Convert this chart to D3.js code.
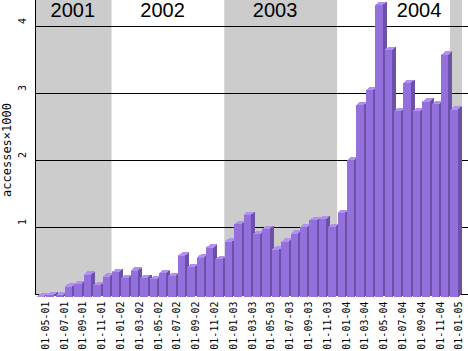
<!DOCTYPE html>
<html>
<head>
<meta charset="utf-8">
<script src="https://cdn.jsdelivr.net/npm/d3@7/dist/d3.min.js"></script>
<style>
  html, body { margin: 0; padding: 0; background: #ffffff; }
  svg { display: block; }
</style>
</head>
<body>
<script>
// ---- data ----
const months = [
  "2001-05","2001-06","2001-07","2001-08","2001-09","2001-10","2001-11","2001-12",
  "2002-01","2002-02","2002-03","2002-04","2002-05","2002-06","2002-07","2002-08","2002-09","2002-10","2002-11","2002-12",
  "2003-01","2003-02","2003-03","2003-04","2003-05","2003-06","2003-07","2003-08","2003-09","2003-10","2003-11","2003-12",
  "2004-01","2004-02","2004-03","2004-04","2004-05","2004-06","2004-07","2004-08","2004-09","2004-10","2004-11","2004-12",
  "2005-01"
];
// accesses (in thousands)
const accesses = [
  0.01, 0.03, 0.03, 0.16, 0.20, 0.34, 0.18, 0.31,
  0.38, 0.29, 0.40, 0.29, 0.27, 0.36, 0.32, 0.62, 0.45, 0.59, 0.74, 0.57,
  0.83, 1.09, 1.23, 0.94, 1.02, 0.71, 0.83, 0.95, 1.05, 1.15, 1.17, 1.05,
  1.26, 2.05, 2.87, 3.09, 4.36, 3.69, 2.78, 3.20, 2.78, 2.92, 2.88, 3.62,
  2.80
];
const tickMonths = ["2001-05","2001-07","2001-09","2001-11","2002-01","2002-03","2002-05","2002-07",
  "2002-09","2002-11","2003-01","2003-03","2003-05","2003-07","2003-09","2003-11","2004-01","2004-03",
  "2004-05","2004-07","2004-09","2004-11","2005-01"];
const tickLabels = ["01-05-01","01-07-01","01-09-01","01-11-01","01-01-02","01-03-02","01-05-02","01-07-02",
  "01-09-02","01-11-02","01-01-03","01-03-03","01-05-03","01-07-03","01-09-03","01-11-03","01-01-04","01-03-04",
  "01-05-04","01-07-04","01-09-04","01-11-04","01-01-05"];
const yTicks = [1, 2, 3, 4];
const shadedYears = ["2001", "2003", "2005"];
const yearLabels = ["2001", "2002", "2003", "2004"];
const yearLabelDates = ["2001-08-26", "2002-06-13", "2003-06-13", "2004-09-22"];
const yTitle = "accesses\u00d71000";

// ---- layout ----
const W = 468, H = 351;
const plotL = 35, plotR = 462, gridR = 468;
const svg = d3.select("body").append("svg").attr("width", W).attr("height", H);

const x = d3.scaleBand().domain(months).range([36.8, 459.8]).paddingInner(0).paddingOuter(0);
const xt = d3.scaleTime().domain([new Date(2001, 4, 1), new Date(2005, 1, 1)]).range([36.8, 459.8]);
const y = d3.scaleLinear().domain([0, 4]).range([294.5, 26.5]);
const parseDay = d3.timeParse("%Y-%m-%d");

// shaded year bands
shadedYears.forEach(yr => {
  const start = yr + "-01";
  const next = (+yr + 1) + "-01";
  const x0 = months.includes(start) ? x(start) - 0.5 : plotL;
  const x1 = months.includes(next) ? x(next) - 0.5 : plotR;
  svg.append("rect")
    .attr("x", Math.max(plotL, x0)).attr("y", 0)
    .attr("width", Math.min(plotR, x1) - Math.max(plotL, x0))
    .attr("height", y(0))
    .attr("fill", "#cccccc");
});

// gridlines (including baseline)
svg.append("g").selectAll("line").data([0].concat(yTicks)).join("line")
  .attr("x1", plotL).attr("x2", gridR)
  .attr("y1", d => y(d)).attr("y2", d => y(d))
  .attr("stroke", "#000").attr("stroke-width", 1)
  .attr("shape-rendering", "crispEdges");

// left axis line
svg.append("line").attr("x1", plotL + 0.5).attr("x2", plotL + 0.5)
  .attr("y1", 0).attr("y2", y(0) + 0.5)
  .attr("stroke", "#000").attr("shape-rendering", "crispEdges");

// 3D bars
const fw = x.bandwidth() * 0.78, dx = 4, dy = 3.3, off = 2.8;
const gb = svg.append("g").attr("shape-rendering", "crispEdges");
months.forEach((m, i) => {
  const x0 = x(m);
  const ft = y(accesses[i]) + off;
  const fb = y(0) + off;
  // side
  gb.append("polygon")
    .attr("points", [[x0 + fw, ft], [x0 + fw + dx, ft - dy], [x0 + fw + dx, fb - dy], [x0 + fw, fb]].map(p => p.join(",")).join(" "))
    .attr("fill", "#6b51a8");
  // top
  gb.append("polygon")
    .attr("points", [[x0, ft], [x0 + fw, ft], [x0 + fw + dx, ft - dy], [x0 + dx, ft - dy]].map(p => p.join(",")).join(" "))
    .attr("fill", "#b290f2");
  // front
  gb.append("rect")
    .attr("x", x0).attr("y", ft).attr("width", fw).attr("height", fb - ft)
    .attr("fill", "#9370db");
});

// x tick labels
svg.append("g").selectAll("text").data(tickMonths).join("text")
  .attr("transform", d => `translate(${x(d) + 8.5},301.5) rotate(-90)`)
  .attr("text-anchor", "end")
  .attr("dominant-baseline", "central")
  .attr("font-family", "DejaVu Sans Mono")
  .attr("font-size", 10)
  .attr("fill", "#000")
  .text((d, i) => tickLabels[i]);

// y tick labels
svg.append("g").selectAll("text").data(yTicks).join("text")
  .attr("transform", d => `translate(22.7,${y(d) - 5.5}) rotate(-90)`)
  .attr("text-anchor", "middle")
  .attr("dominant-baseline", "central")
  .attr("font-family", "DejaVu Sans Mono")
  .attr("font-size", 10)
  .attr("fill", "#000")
  .text(d => d);

// y title
svg.append("text")
  .attr("transform", "translate(10.5,150) rotate(-90)")
  .attr("text-anchor", "middle")
  .attr("font-family", "DejaVu Sans Mono")
  .attr("font-size", 12)
  .attr("fill", "#000")
  .text(yTitle);

// year labels
svg.append("g").selectAll("text").data(yearLabels).join("text")
  .attr("x", (d, i) => xt(parseDay(yearLabelDates[i])))
  .attr("y", 17)
  .attr("text-anchor", "middle")
  .attr("font-family", "Liberation Sans")
  .attr("font-size", 20)
  .attr("fill", "#000")
  .text(d => d);
</script>
</body>
</html>
